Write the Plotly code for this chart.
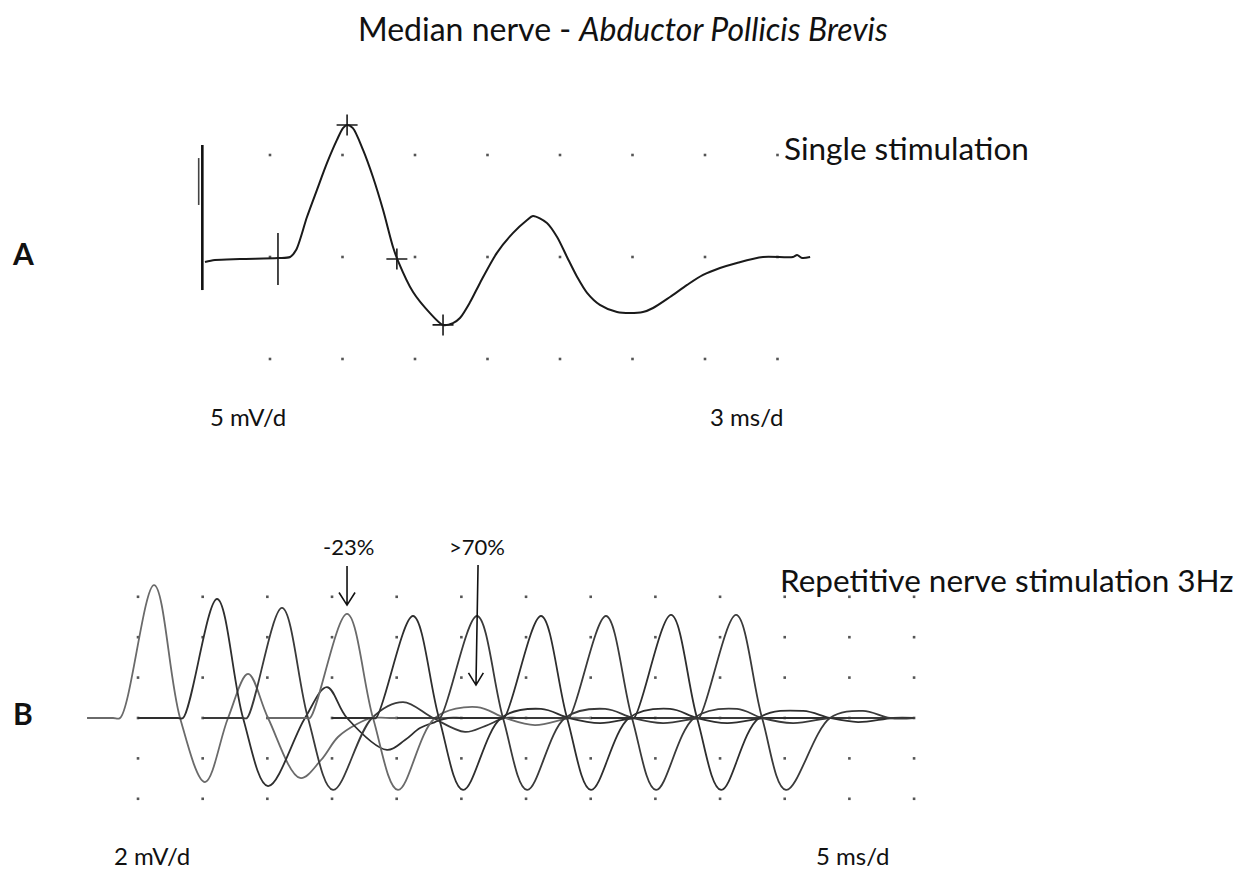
import plotly.graph_objects as go

# ---------------- Panel A : single stimulation (time in ms, amplitude in mV) ----------------
a_ms = [0.31, 0.72, 1.76, 3.33, 3.83, 4.08, 4.53, 4.94, 5.36, 5.77, 6.02, 6.19, 6.43, 6.85, 7.26,
        7.68, 8.09, 8.30, 8.92, 9.62, 10.16, 10.57, 10.86, 11.28, 11.69, 12.39, 13.06, 13.64, 13.88,
        14.46, 14.88, 15.29, 15.71, 16.12, 16.65, 17.36, 17.90, 18.43, 18.85, 19.55, 20.26, 20.92,
        21.62, 22.32, 23.40, 24.64, 24.81, 25.02, 25.35]
a_mv = [-0.25, -0.15, -0.10, -0.05, 0.00, 0.34, 1.96, 3.28, 4.61, 5.74, 6.32, 6.47, 6.32, 5.25, 3.92,
        2.30, 0.49, -0.20, -1.72, -2.75, -3.33, -3.24, -2.99, -2.21, -1.27, 0.20, 1.18, 1.81, 2.01,
        1.67, 0.98, 0.00, -0.98, -1.76, -2.35, -2.70, -2.75, -2.70, -2.50, -1.96, -1.37, -0.88,
        -0.54, -0.29, 0.00, 0.00, 0.10, -0.05, 0.00]

artifact_ms = [0.20, 0.20]
artifact_mv = [5.49, -1.62]
artifact2_ms = [0.05, 0.05]
artifact2_mv = [4.85, 2.55]
onset_cursor_ms = [3.33, 3.33]
onset_cursor_mv = [1.18, -1.37]
marker_ms = [6.19, 8.25, 10.16]
marker_mv = [6.47, -0.10, -3.33]

a_grid_ms = [3, 6, 9, 12, 15, 18, 21, 24]
a_grid_mv = [-5, 0, 5]

# ---------------- Panel B : repetitive nerve stimulation 3 Hz (staggered display) ----------------
r1_ms = [-3.94, -1.93, -1.39, 1.24, 3.25, 5.18, 6.96, 8.51, 10.05, 12.53, 14.15, 15.46, 16.93, 18.09, 19.48, 60.0]
r1_mv = [0, 0, 0, 6.58, 0, -3.17, 0, 2.18, 0, -2.97, -2.08, -0.94, -0.30, 0, 0, 0]
r2_ms = [0, 3.09, 3.48, 6.11, 8.12, 10.05, 12.91, 14.61, 16.16, 19.25, 20.64, 21.80, 22.96, 23.97, 25.28, 60.0]
r2_mv = [0, 0, 0, 5.89, 0, -3.37, 0, 1.53, 0, -1.58, -1.09, -0.50, -0.20, 0, 0, 0]
r3_ms = [5.03, 8.12, 8.43, 11.13, 13.14, 15.08, 18.09, 20.49, 22.81, 25.28, 26.83, 28.38, 29.54, 60.0]
r3_mv = [0, 0, 0, 5.45, 0, -3.56, 0, 0.79, 0, -0.69, -0.40, 0, 0, 0]
r4_ms = [10.05, 12.99, 13.30, 16.16, 18.17, 20.10, 22.96, 26.21, 28.38, 30.69, 33.40, 34.56, 60.0]
r4_mv = [0, 0, 0, 5.15, 0, -3.56, 0, 0.54, 0, -0.35, 0, 0, 0]
r5_ms = [15.00, 18.09, 18.40, 21.26, 23.27, 25.13, 28.07, 31.16, 33.32, 35.72, 38.43, 39.59, 60.0]
r5_mv = [0, 0, 0, 5.05, 0, -3.56, 0, 0.45, 0, -0.25, 0, 0, 0]
r6_ms = [20.03, 23.04, 23.35, 26.21, 28.22, 30.08, 33.01, 36.11, 38.27, 40.59, 43.45, 44.61, 60.0]
r6_mv = [0, 0, 0, 5.05, 0, -3.56, 0, 0.45, 0, -0.25, 0, 0, 0]
r7_ms = [25.05, 27.99, 28.30, 31.16, 33.17, 35.02, 37.96, 41.13, 43.22, 45.54, 48.48, 49.64, 60.0]
r7_mv = [0, 0, 0, 5.05, 0, -3.56, 0, 0.45, 0, -0.25, 0, 0, 0]
r8_ms = [30.00, 33.01, 33.32, 36.18, 38.19, 40.05, 42.99, 46.31, 48.25, 50.64, 53.50, 54.66, 60.0]
r8_mv = [0, 0, 0, 5.05, 0, -3.56, 0, 0.45, 0, -0.25, 0, 0, 0]
r9_ms = [35.02, 38.04, 38.35, 41.21, 43.22, 45.08, 48.01, 51.42, 53.50, 55.67, 58.37, 60.0]
r9_mv = [0, 0, 0, 5.10, 0, -3.56, 0, 0.35, 0, -0.20, 0, 0]
r10_ms = [40.05, 43.07, 43.37, 46.24, 48.25, 50.10, 53.50, 56.05, 58.14, 60.0]
r10_mv = [0, 0, 0, 5.10, 0, -3.56, 0, 0.35, 0, 0]

responses = [(r1_ms, r1_mv), (r2_ms, r2_mv), (r3_ms, r3_mv), (r4_ms, r4_mv), (r5_ms, r5_mv),
             (r6_ms, r6_mv), (r7_ms, r7_mv), (r8_ms, r8_mv), (r9_ms, r9_mv), (r10_ms, r10_mv)]
response_colors = ["#6a6a6a", "#2e2e2e", "#3a3a3a", "#6a6a6a", "#2e2e2e",
                   "#3a3a3a", "#2e2e2e", "#3a3a3a", "#2e2e2e", "#3a3a3a"]

b_grid_ms = [0, 5, 10, 15, 20, 25, 30, 35, 40, 45, 50, 55, 60]
b_grid_mv = [-4, -2, 0, 2, 4, 6]

FONT = "Lato, 'Open Sans', sans-serif"
W, H = 1236, 872

fig = go.Figure()

# grid dots
fig.add_trace(go.Scatter(
    x=[t for t in a_grid_ms for _ in a_grid_mv], y=[v for _ in a_grid_ms for v in a_grid_mv],
    mode="markers", marker=dict(size=2.6, color="#555555", symbol="square"),
    xaxis="x", yaxis="y", hoverinfo="skip"))
fig.add_trace(go.Scatter(
    x=[t for t in b_grid_ms for _ in b_grid_mv], y=[v for _ in b_grid_ms for v in b_grid_mv],
    mode="markers", marker=dict(size=2.6, color="#555555", symbol="square"),
    xaxis="x2", yaxis="y2", hoverinfo="skip"))

# panel A
fig.add_trace(go.Scatter(x=artifact_ms, y=artifact_mv, mode="lines",
                         line=dict(color="#111111", width=2.6), xaxis="x", yaxis="y"))
fig.add_trace(go.Scatter(x=artifact2_ms, y=artifact2_mv, mode="lines",
                         line=dict(color="#444444", width=1.6), xaxis="x", yaxis="y"))
fig.add_trace(go.Scatter(x=a_ms, y=a_mv, mode="lines",
                         line=dict(color="#1a1a1a", width=2, shape="spline", smoothing=0.8),
                         xaxis="x", yaxis="y"))
fig.add_trace(go.Scatter(x=onset_cursor_ms, y=onset_cursor_mv, mode="lines",
                         line=dict(color="#1a1a1a", width=1.6), xaxis="x", yaxis="y"))
fig.add_trace(go.Scatter(x=marker_ms, y=marker_mv, mode="markers",
                         marker=dict(symbol="cross-thin", size=15,
                                     line=dict(color="#1a1a1a", width=1.6)),
                         xaxis="x", yaxis="y"))

# panel B
for (t, v), c in zip(responses, response_colors):
    fig.add_trace(go.Scatter(x=t, y=v, mode="lines",
                             line=dict(color=c, width=1.8, shape="spline", smoothing=1.0),
                             xaxis="x2", yaxis="y2", hoverinfo="skip"))

# arrows in panel B (open arrow heads)
arrow_paths = [
    "M 16.16 7.52 L 16.16 5.62 M 15.54 6.21 L 16.16 5.59 L 16.78 6.21",
    "M 26.29 7.57 L 26.13 1.63 M 25.55 2.23 L 26.13 1.63 L 26.70 2.23",
]
shapes = [dict(type="path", path=p, xref="x2", yref="y2",
               line=dict(color="#111111", width=1.6)) for p in arrow_paths]


def px(x):
    return x / W


def py(y):
    return 1 - y / H


BIG = 31.5
SMALL = 24
annotations = [
    dict(text="Median nerve - <i>Abductor Pollicis Brevis</i>", x=px(623), y=py(28),
         xanchor="center", yanchor="middle", font=dict(size=32, color="#111111")),
    dict(text="Single stimulation", x=px(782), y=py(148), xanchor="left", yanchor="middle",
         font=dict(size=BIG, color="#111111")),
    dict(text="<b>A</b>", x=px(23), y=py(253), xanchor="center", yanchor="middle",
         font=dict(size=30, color="#111111")),
    dict(text="5 mV/d", x=px(248), y=py(416), xanchor="center", yanchor="middle",
         font=dict(size=SMALL, color="#111111")),
    dict(text="3 ms/d", x=px(746), y=py(416), xanchor="center", yanchor="middle",
         font=dict(size=SMALL, color="#111111")),
    dict(text="Repetitive nerve stimulation 3Hz", x=px(778), y=py(580), xanchor="left",
         yanchor="middle", font=dict(size=BIG, color="#111111")),
    dict(text="-23%", x=px(348), y=py(546), xanchor="center", yanchor="middle",
         font=dict(size=22, color="#111111")),
    dict(text=">70%", x=px(477), y=py(546), xanchor="center", yanchor="middle",
         font=dict(size=22, color="#111111")),
    dict(text="<b>B</b>", x=px(23), y=py(713), xanchor="center", yanchor="middle",
         font=dict(size=30, color="#111111")),
    dict(text="2 mV/d", x=px(152), y=0, xanchor="center", yanchor="bottom",
         font=dict(size=SMALL, color="#111111")),
    dict(text="5 ms/d", x=px(852), y=0, xanchor="center", yanchor="bottom",
         font=dict(size=SMALL, color="#111111")),
]
for a in annotations:
    a.update(xref="paper", yref="paper", showarrow=False)

fig.update_layout(
    width=W, height=H, margin=dict(l=0, r=0, t=0, b=0),
    paper_bgcolor="white", plot_bgcolor="white", showlegend=False,
    font=dict(family=FONT),
    xaxis=dict(domain=[0, 1], range=[-8.172, 42.972], visible=False, fixedrange=True),
    yaxis=dict(domain=[0.5, 1], range=[-8.775, 12.598], visible=False, fixedrange=True),
    xaxis2=dict(domain=[0, 1], range=[-10.67, 84.89], visible=False, anchor="y2", fixedrange=True),
    yaxis2=dict(domain=[0, 0.5], range=[-7.624, 13.96], visible=False, anchor="x2", fixedrange=True),
    shapes=shapes, annotations=annotations,
)

fig.write_html("out.html")
